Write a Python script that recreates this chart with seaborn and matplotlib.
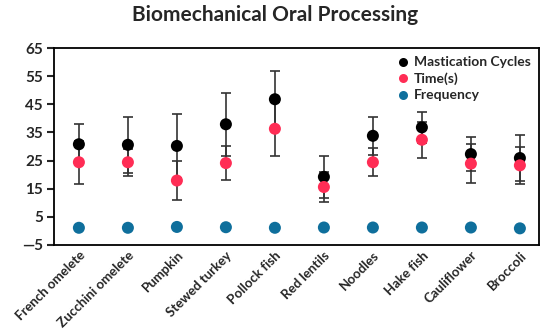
import matplotlib
matplotlib.use("Agg")
import matplotlib.pyplot as plt
import seaborn as sns
import pandas as pd
import numpy as np

foods = ["French omelete", "Zucchini omelete", "Pumpkin", "Stewed turkey", "Pollock fish",
         "Red lentils", "Noodles", "Hake fish", "Cauliflower", "Broccoli"]
cycles = [30.8, 30.6, 30.2, 37.9, 46.8, 19.2, 33.8, 36.8, 27.3, 25.9]
cycles_err = [7.2, 9.9, 11.3, 11.2, 10.0, 7.5, 6.7, 5.5, 6.1, 8.1]
time_s = [24.4, 24.4, 17.9, 24.1, 36.3, 15.6, 24.4, 32.4, 23.9, 23.3]
time_err = [7.6, 4.8, 6.8, 5.9, 9.6, 5.2, 4.9, 6.4, 6.9, 6.5]
freq = [1.1, 1.1, 1.4, 1.3, 1.1, 1.2, 1.2, 1.2, 1.2, 0.9]
series = ["Mastication Cycles", "Time(s)", "Frequency"]
colors = ["#000000", "#ff2d55", "#0f6f9c"]
yticks = [-5, 5, 15, 25, 35, 45, 55, 65]

sns.set_style("white")
plt.rcParams['font.family'] = ['Lato', 'DejaVu Sans']

df = pd.DataFrame({
    "food": foods * 3,
    "value": cycles + time_s + freq,
    "series": [series[0]] * 10 + [series[1]] * 10 + [series[2]] * 10,
})

fig = plt.figure(figsize=(5.5, 3.36), dpi=100)
ax = fig.add_axes([0.098, 0.271, 0.882, 0.586])

xpos = np.arange(len(foods))
ax.errorbar(xpos, cycles, yerr=cycles_err, fmt="none", ecolor="#333333", elinewidth=1.2,
            capsize=3.5, capthick=1.2, zorder=1)
ax.errorbar(xpos, time_s, yerr=time_err, fmt="none", ecolor="#333333", elinewidth=1.2,
            capsize=3.5, capthick=1.2, zorder=1)

sns.scatterplot(data=df, x="food", y="value", hue="series", hue_order=series,
                palette=colors, s=75, linewidth=0, ax=ax, zorder=3, legend=True)

ax.set_ylim(-5, 65)
ax.set_yticks(yticks)
ax.set_yticklabels(["\u2014" + str(abs(v)) if v < 0 else str(v) for v in yticks],
                   fontsize=11, fontweight="bold")
ax.set_xlim(-0.51, 9.39)
ax.set_xticks(xpos)
ax.set_xticklabels(foods, rotation=45, ha="right", rotation_mode="anchor",
                   fontsize=9.5, fontweight="bold")
ax.tick_params(axis="y", direction="out", length=5, width=1.5, left=True, pad=3)
ax.tick_params(axis="x", length=0, pad=3)
ax.set_xlabel("")
ax.set_ylabel("")
for sp in ax.spines.values():
    sp.set_visible(True)
    sp.set_color("black")
    sp.set_linewidth(1.3)

leg = ax.legend(loc="upper right", frameon=False, prop={"weight": "bold", "size": 10},
                handletextpad=-0.2, labelspacing=0.3, borderaxespad=0.2, markerscale=0.75)
fig.suptitle("Biomechanical Oral Processing", fontsize=15, fontweight="bold", y=0.985)

fig.savefig("out.png", dpi=100)
